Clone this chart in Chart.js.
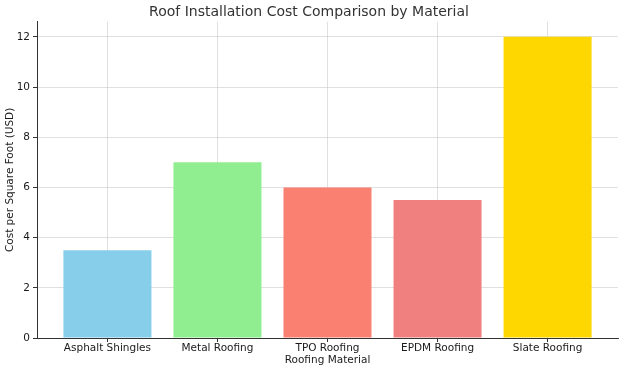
<!DOCTYPE html>
<html>
<head>
    <title>Roof Installation Cost Comparison</title>
    <script src="https://cdn.jsdelivr.net/npm/chart.js"></script>
    <style>
        body {
            margin: 0;
            padding: 0;
            background: #ffffff;
        }
        #chart-container {
            width: 624px;
            height: 372px;
        }
    </style>
</head>
<body>

<div id="chart-container">
    <canvas id="costChart"></canvas>
</div>

<script>
    const materials = ['Asphalt Shingles', 'Metal Roofing', 'TPO Roofing', 'EPDM Roofing', 'Slate Roofing'];
    const costs = [3.5, 7, 6, 5.5, 12];
    const barColors = ['#87CEEB', '#90EE90', '#FA8072', '#F08080', '#FFD700'];
    const yTicks = [0, 2, 4, 6, 8, 10, 12];

    const font = "'DejaVu Sans', sans-serif";
    const gridStyle = {
        offset: false,
        color: 'rgba(200,200,200,0.7)',
        lineWidth: 0.8,
        borderDash: [2, 2],
        tickColor: '#333333',
        tickLength: 4,
        tickWidth: 1,
        tickBorderDash: []
    };

    new Chart(document.getElementById('costChart'), {
        type: 'bar',
        data: {
            datasets: [{
                data: costs.map((c, i) => ({ x: i, y: c })),
                backgroundColor: barColors,
                borderWidth: 0,
                categoryPercentage: 1,
                barPercentage: 0.8
            }]
        },
        options: {
            responsive: true,
            maintainAspectRatio: false,
            animation: false,
            layout: { padding: { left: 0, right: 6, top: 0, bottom: 0 } },
            scales: {
                x: {
                    type: 'linear',
                    offset: false,
                    min: -0.64,
                    max: 4.64,
                    z: 1,
                    afterBuildTicks: axis => {
                        axis.ticks = materials.map((m, i) => ({ value: i }));
                    },
                    afterFit: axis => { axis.height = 34; },
                    grid: gridStyle,
                    border: { display: true, color: '#333333', width: 1 },
                    ticks: {
                        autoSkip: false,
                        maxRotation: 0,
                        padding: 0,
                        color: '#1a1a1a',
                        font: { family: font, size: 10.5 },
                        callback: v => materials[v]
                    },
                    title: {
                        display: true,
                        text: 'Roofing Material',
                        color: '#1a1a1a',
                        font: { family: font, size: 10.5 },
                        padding: { top: 0, bottom: 5 }
                    }
                },
                y: {
                    min: 0,
                    max: 12.6,
                    z: 1,
                    afterBuildTicks: axis => {
                        axis.ticks = yTicks.map(v => ({ value: v }));
                    },
                    afterFit: axis => { axis.width = 37; },
                    grid: gridStyle,
                    border: { display: true, color: '#333333', width: 1 },
                    ticks: {
                        padding: 3,
                        color: '#1a1a1a',
                        font: { family: font, size: 10.5 }
                    },
                    title: {
                        display: true,
                        text: 'Cost per Square Foot (USD)',
                        color: '#1a1a1a',
                        font: { family: font, size: 10.5 },
                        padding: { top: 4, bottom: 4 }
                    }
                }
            },
            plugins: {
                legend: { display: false },
                tooltip: { enabled: false },
                title: {
                    display: true,
                    text: 'Roof Installation Cost Comparison by Material',
                    color: '#333333',
                    font: { family: font, size: 14, weight: 'normal' },
                    padding: { top: 4, bottom: 1 }
                }
            }
        }
    });
</script>

</body>
</html>
